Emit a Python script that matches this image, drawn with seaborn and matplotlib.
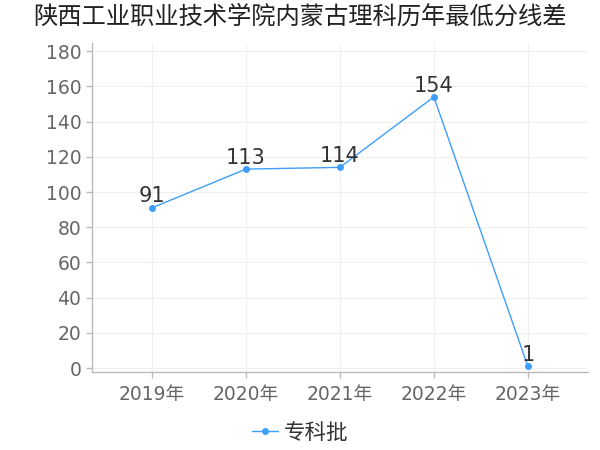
import pandas as pd
import matplotlib
matplotlib.use("Agg")
import matplotlib.pyplot as plt
import seaborn as sns

# data
years = ["2019年", "2020年", "2021年", "2022年", "2023年"]
diffs = [91, 113, 114, 154, 1]
series_name = "专科批"
title = "陕西工业职业技术学院内蒙古理科历年最低分线差"

df = pd.DataFrame({"year": years, "diff": diffs, "batch": series_name})

sns.set_style("white")
# DejaVu first for the digits, CJK font picks up the Chinese glyphs
plt.rcParams['font.family'] = ['DejaVu Sans', 'Noto Sans CJK SC']

line_color = "#3d9efc"

fig = plt.figure(figsize=(6, 4.5), dpi=100)
ax = fig.add_axes([0.153, 0.173, 0.827, 0.731])

sns.lineplot(data=df, x="year", y="diff", hue="batch", palette=[line_color],
             marker="o", markersize=5, markeredgewidth=0, linewidth=1, ax=ax, sort=False)

# value labels above each point
for i, v in enumerate(diffs):
    ax.text(i, v + 0.8, str(v), ha="center", va="bottom", fontsize=15, color="#333333")

ax.set_xlim(-0.64, 4.64)
ax.set_ylim(-2.3, 184.5)
ax.set_yticks(range(0, 181, 20))
ax.set_xlabel("")
ax.set_ylabel("")

ax.grid(True, color="#f0f0f0", linewidth=0.8)
ax.set_axisbelow(True)
for s in ["top", "right"]:
    ax.spines[s].set_visible(False)
for s in ["left", "bottom"]:
    ax.spines[s].set_color("#bbbbbb")
    ax.spines[s].set_linewidth(1)

ax.tick_params(axis="both", colors="#bbbbbb", labelcolor="#666666", labelsize=13.5,
               length=4, width=1, left=True, bottom=True)
ax.tick_params(axis="x", pad=5)

fig.suptitle(title, fontsize=17.5, color="#222222", y=0.99)

leg = ax.legend(loc="center", bbox_to_anchor=(0.42, -0.185), frameon=False,
                fontsize=15.5, handlelength=1.2, handletextpad=0.3)
for t in leg.get_texts():
    t.set_color("#333333")

fig.savefig("out.png", dpi=100)
